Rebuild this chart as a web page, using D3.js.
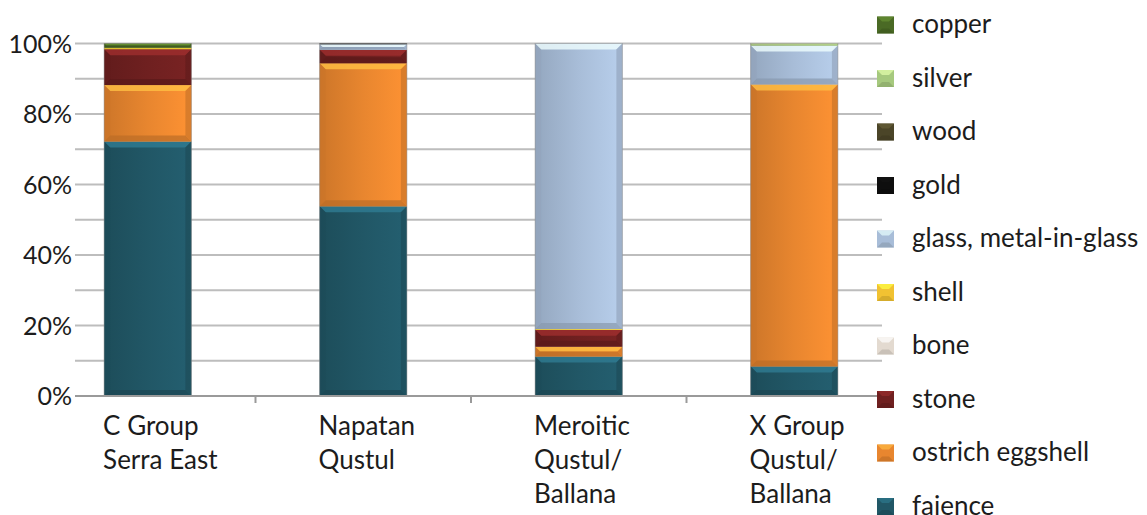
<!DOCTYPE html>
<html><head><meta charset="utf-8">
<script src="https://cdn.jsdelivr.net/npm/d3@7"></script>
<style>
html,body{margin:0;padding:0;background:#fff;}
svg{display:block;font-family:Lato,"Open Sans",sans-serif;}
</style></head>
<body>
<svg id="chart" width="1147" height="515"></svg>
<script>
// ---- data ----
const categories = ["C Group|Serra East", "Napatan|Qustul", "Meroitic|Qustul/|Ballana", "X Group|Qustul/|Ballana"];
const seriesNames = ["faience", "ostrich eggshell", "stone", "bone", "shell", "glass, metal-in-glass", "gold", "wood", "silver", "copper"];
const seriesColors = ["#215766", "#e8862f", "#6f2020", "#e3dad0", "#f1c232", "#a8bdd8", "#0e0e0e", "#4b4528", "#a6c97e", "#4a6a25"];
const faience        = [72.2, 53.8, 11.2, 8.4];
const ostrichEggshell= [16.0, 40.6, 2.8, 80.0];
const stone          = [10.2, 3.8, 4.8, 0];
const bone           = [0, 0, 0, 0];
const shell          = [0.4, 0, 0.2, 0];
const glass          = [0, 1.6, 81.0, 11.0];
const gold           = [0, 0.2, 0, 0];
const wood           = [0, 0, 0, 0];
const silver         = [0, 0, 0, 0.6];
const copper         = [1.2, 0, 0, 0];
const yTicks = [0, 20, 40, 60, 80, 100];
const yGrid = [0, 10, 20, 30, 40, 50, 60, 70, 80, 90, 100];

const seriesValues = [faience, ostrichEggshell, stone, bone, shell, glass, gold, wood, silver, copper];
const table = categories.map((c, i) => {
  const row = {cat: c};
  seriesNames.forEach((s, j) => row[s] = seriesValues[j][i]);
  return row;
});

const svg = d3.select("#chart");
const x = d3.scaleBand().domain(categories).range([40, 902]).paddingInner(0.595).paddingOuter(0.2975);
const y = d3.scaleLinear().domain([0, 100]).range([396, 43.5]);
const gridX0 = 75, gridX1 = 882;

// gridlines
svg.append("g").selectAll("line").data(yGrid).join("line")
  .attr("x1", gridX0).attr("x2", gridX1)
  .attr("y1", d => y(d)).attr("y2", d => y(d))
  .attr("stroke", "#bdbdbd").attr("stroke-width", 2);

// gradients
const defs = svg.append("defs");
seriesColors.forEach((c, j) => {
  const g = defs.append("linearGradient").attr("id", "g" + j).attr("x1", "0").attr("x2", "1").attr("y1", "0").attr("y2", "0");
  g.append("stop").attr("offset", "0").attr("stop-color", d3.color(c).darker(0.35));
  g.append("stop").attr("offset", "0.5").attr("stop-color", c);
  g.append("stop").attr("offset", "1").attr("stop-color", d3.color(c).brighter(0.25));
});

const stack = d3.stack().keys(seriesNames);
const stacked = stack(table);

const barG = svg.append("g");
stacked.forEach((layer, j) => {
  layer.forEach((d, i) => {
    if (d[1] - d[0] <= 0) return;
    const x0 = x(d.data.cat), w = x.bandwidth();
    const yt = y(d[1]), yb = y(d[0]), h = yb - yt;
    const b = Math.min(6, h / 2, w / 2);
    const col = seriesColors[j];
    const g = barG.append("g");
    g.append("rect").attr("x", x0).attr("y", yt).attr("width", w).attr("height", h).attr("fill", "url(#g" + j + ")");
    g.append("path").attr("d", `M${x0},${yt}L${x0 + w},${yt}L${x0 + w - b},${yt + b}L${x0 + b},${yt + b}Z`)
      .attr("fill", d3.color(col).brighter(1.0)).attr("opacity", 0.8);
    g.append("path").attr("d", `M${x0},${yb}L${x0 + w},${yb}L${x0 + w - b},${yb - b}L${x0 + b},${yb - b}Z`)
      .attr("fill", d3.color(col).darker(0.6)).attr("opacity", 0.7);
    g.append("path").attr("d", `M${x0},${yt}L${x0 + b},${yt + b}L${x0 + b},${yb - b}L${x0},${yb}Z`)
      .attr("fill", d3.color(col).darker(0.4)).attr("opacity", 0.6);
    g.append("path").attr("d", `M${x0 + w},${yt}L${x0 + w - b},${yt + b}L${x0 + w - b},${yb - b}L${x0 + w},${yb}Z`)
      .attr("fill", d3.color(col).darker(0.5)).attr("opacity", 0.6);
  });
});
barG.selectAll("rect.outline").data(categories).join("rect").attr("class", "outline")
  .attr("x", d => x(d)).attr("y", y(100)).attr("width", x.bandwidth()).attr("height", y(0) - y(100))
  .attr("fill", "none").attr("stroke", "#8a8a8a").attr("stroke-opacity", 0.5).attr("stroke-width", 1);

// x axis line + ticks
svg.append("line").attr("x1", gridX0).attr("x2", gridX1).attr("y1", y(0)).attr("y2", y(0))
  .attr("stroke", "#9a9a9a").attr("stroke-width", 2);
const step = x.step();
svg.append("g").selectAll("line").data(categories.slice(0, -1)).join("line")
  .attr("x1", d => x(d) + x.bandwidth() + step * x.paddingInner() / 2)
  .attr("x2", d => x(d) + x.bandwidth() + step * x.paddingInner() / 2)
  .attr("y1", y(0)).attr("y2", y(0) + 7)
  .attr("stroke", "#9a9a9a").attr("stroke-width", 2);

// y labels
svg.append("g").selectAll("text").data(yTicks).join("text")
  .attr("x", 72).attr("y", d => y(d)).attr("dy", "0.36em")
  .attr("text-anchor", "end").attr("font-size", 25).attr("fill", "#1c1c1c")
  .text(d => d + "%");

// category labels
const catG = svg.append("g");
categories.forEach(c => {
  c.split("|").forEach((line, k) => {
    catG.append("text").attr("x", x(c) - 1).attr("y", 435 + k * 34)
      .attr("font-size", 26).attr("fill", "#1c1c1c").text(line);
  });
});

// legend (top to bottom: reversed series)
const legendOrder = seriesNames.map((s, j) => j).reverse();
const lg = svg.append("g");
legendOrder.forEach((j, k) => {
  const cy = 25 + k * 53.5;
  const col = seriesColors[j];
  const s = 17, lx = 877, ly = cy - s / 2, b = 5;
  lg.append("rect").attr("x", lx).attr("y", ly).attr("width", s).attr("height", s).attr("fill", col);
  lg.append("path").attr("d", `M${lx},${ly}L${lx + s},${ly}L${lx + s - b},${ly + b}L${lx + b},${ly + b}Z`)
    .attr("fill", d3.color(col).brighter(0.9)).attr("opacity", 0.7);
  lg.append("path").attr("d", `M${lx},${ly + s}L${lx + s},${ly + s}L${lx + s - b},${ly + s - b}L${lx + b},${ly + s - b}Z`)
    .attr("fill", d3.color(col).darker(0.6)).attr("opacity", 0.6);
  lg.append("text").attr("x", 912).attr("y", cy).attr("dy", "0.32em")
    .attr("font-size", 26).attr("fill", "#1c1c1c").text(seriesNames[j]);
});
</script>
</body></html>
